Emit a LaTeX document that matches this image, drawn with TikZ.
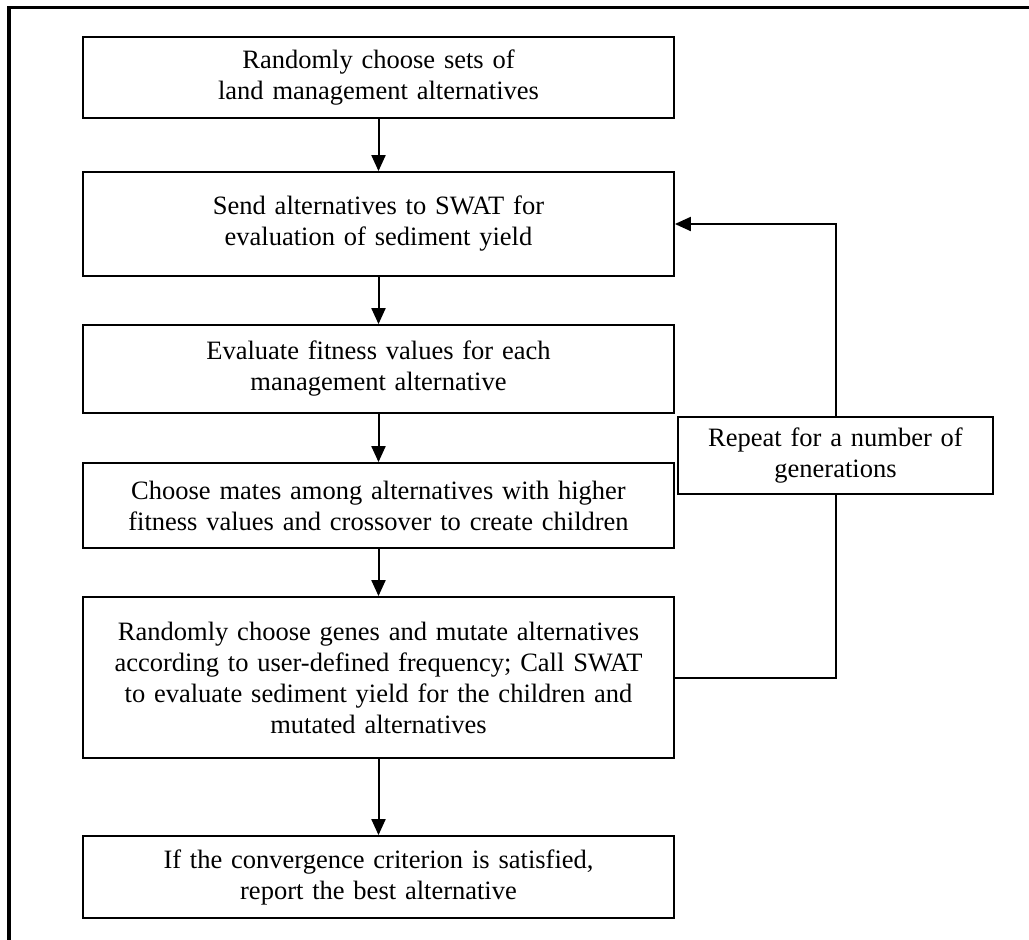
\documentclass[tikz,border=0pt]{standalone}
\usepackage{fontspec}
\setmainfont{Liberation Serif}
\usetikzlibrary{arrows.meta}
\begin{document}
\begin{tikzpicture}[x=1pt,y=-1pt,
  box/.style={draw,line width=1.8pt,inner sep=0pt,minimum width=591pt,text width=585pt,align=center,font=\fontsize{26.5}{31}\selectfont},
  rbox/.style={draw,line width=1.8pt,inner sep=0pt,minimum width=315pt,text width=310pt,align=center,font=\fontsize{26.5}{31}\selectfont},
  conn/.style={line width=2pt,-{Triangle[length=16pt,width=14pt]}},
  plain/.style={line width=2pt},
  frame/.style={line width=3.3pt}]
\useasboundingbox (0,0) rectangle (1029,940);
\coordinate (fa) at (9,940);
\coordinate (fb) at (9,7.5);
\coordinate (fc) at (1029,7.5);
\draw[frame] (fa) -- (fb) -- (fc);

\node[box,minimum height=81pt] (b1) at (378.5,77.5) {Randomly choose sets of\\land management alternatives};
\node[box,minimum height=104pt] (b2) at (378.5,224) {Send alternatives to SWAT for\\evaluation of sediment yield};
\node[box,minimum height=88pt] (b3) at (378.5,369) {Evaluate fitness values for each\\management alternative};
\node[box,minimum height=85pt] (b4) at (378.5,505.5) {Choose mates among alternatives with higher\\fitness values and crossover to create children};
\node[box,minimum height=161pt] (b5) at (378.5,677.5) {Randomly choose genes and mutate alternatives\\according to user-defined frequency; Call SWAT\\to evaluate sediment yield for the children and\\mutated alternatives};
\node[box,minimum height=82pt] (b6) at (378.5,877) {If the convergence criterion is satisfied,\\report the best alternative};
\node[rbox,minimum height=77pt] (r) at (835.5,455.5) {Repeat for a number of\\generations};

\draw[conn] (b1.south) -- (b2.north);
\draw[conn] (b2.south) -- (b3.north);
\draw[conn] (b3.south) -- (b4.north);
\draw[conn] (b4.south) -- (b5.north);
\draw[conn] (b5.south) -- (b6.north);
\draw[plain] (b5.east) -| (r.south);
\draw[conn] (r.north) |- (b2.east);
\end{tikzpicture}
\end{document}
